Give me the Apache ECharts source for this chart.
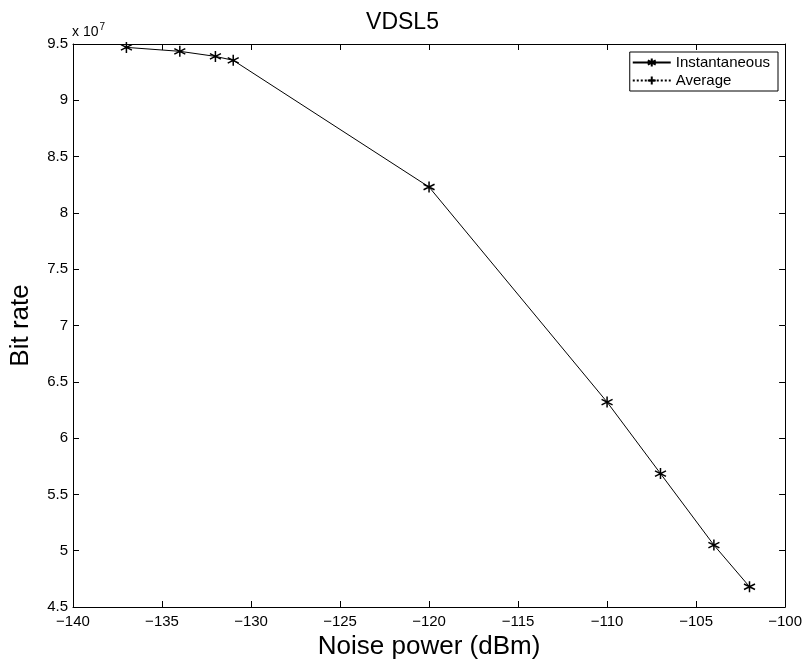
<!DOCTYPE html>
<html><head><meta charset="utf-8">
<script src="https://cdn.jsdelivr.net/npm/echarts@6/dist/echarts.min.js"></script>
<style>html,body{margin:0;padding:0;background:#fff}#c{width:805px;height:665px}</style>
</head><body><div id="c"></div>
<script>
const noisePower = [-137, -134, -132, -131, -120, -110, -107, -104, -102];
const bitRateInst = [9.47e7, 9.435e7, 9.39e7, 9.355e7, 8.23e7, 6.32e7, 5.685e7, 5.05e7, 4.68e7];
const bitRateAvg = [];
const xTicks = [-140, -135, -130, -125, -120, -115, -110, -105, -100];
const yTicks = [4.5, 5, 5.5, 6, 6.5, 7, 7.5, 8, 8.5, 9, 9.5];

const font = 'Liberation Sans, Arial, Helvetica, sans-serif';
const star = 'path://M0,-5L0,5M-4.3,-2.5L4.3,2.5M-4.3,2.5L4.3,-2.5';
const plus = 'path://M0,-5L0,5M-5,0L5,0';
const chart = echarts.init(document.getElementById('c'));
const axisLine = {show: true, onZero: false, lineStyle: {color: '#000', width: 1}};
const tick = {show: true, inside: true, length: 6, lineStyle: {color: '#000'}};
chart.setOption({
  animation: false,
  backgroundColor: '#fff',
  title: {text: 'VDSL5', left: 'center', top: 6, textStyle: {fontFamily: font, fontWeight: 'normal', fontSize: 23, color: '#000'}},
  grid: {left: 72, right: 18, top: 44, bottom: 58},
  legend: {
    orient: 'vertical', right: 27, top: 52, borderColor: '#000', borderWidth: 1,
    backgroundColor: '#fff', itemWidth: 38, itemHeight: 10, itemGap: 3, padding: [3, 8, 3, 2],
    textStyle: {fontFamily: font, fontSize: 15, color: '#000'},
    data: ['Instantaneous', 'Average']
  },
  graphic: [{
    type: 'text', left: 72, top: 22,
    style: {text: '{a|x 10}{b|7}', rich: {a: {fontFamily: font, fontSize: 14, fill: '#000'}, b: {fontFamily: font, fontSize: 10, fill: '#000', verticalAlign: 'top', padding: [0, 0, 10, 1]}}}
  }],
  xAxis: [{
    type: 'value', min: xTicks[0], max: xTicks[xTicks.length - 1], interval: 5,
    name: 'Noise power (dBm)', nameLocation: 'middle', nameGap: 27,
    nameTextStyle: {fontFamily: font, fontSize: 26, color: '#000'},
    axisLine, axisTick: tick, splitLine: {show: false},
    axisLabel: {fontFamily: font, fontSize: 15, color: '#000', margin: 7, formatter: v => (v < 0 ? '\u2212' + (-v) : String(v))}
  }, {
    type: 'value', position: 'top', min: xTicks[0], max: xTicks[xTicks.length - 1], interval: 5,
    axisLine, axisTick: tick, axisLabel: {show: false}, splitLine: {show: false}
  }],
  yAxis: [{
    type: 'value', min: yTicks[0] * 1e7, max: yTicks[yTicks.length - 1] * 1e7, interval: 5e6,
    name: 'Bit rate', nameLocation: 'middle', nameGap: 39, nameRotate: 90,
    nameTextStyle: {fontFamily: font, fontSize: 26, color: '#000'},
    axisLine, axisTick: tick, splitLine: {show: false},
    axisLabel: {fontFamily: font, fontSize: 15, color: '#000', margin: 5, formatter: v => String(Math.round(v / 1e6) / 10)}
  }, {
    type: 'value', position: 'right', min: yTicks[0] * 1e7, max: yTicks[yTicks.length - 1] * 1e7, interval: 5e6,
    axisLine, axisTick: tick, axisLabel: {show: false}, splitLine: {show: false}
  }],
  series: [{
    name: 'Instantaneous', type: 'line', data: noisePower.map((x, i) => [x, bitRateInst[i]]),
    symbol: star, symbolSize: 11, showAllSymbol: true,
    lineStyle: {color: '#000', width: 1},
    itemStyle: {color: 'none', borderColor: '#000', borderWidth: 1.5}
  }, {
    name: 'Average', type: 'line', data: bitRateAvg,
    symbol: plus, symbolSize: 10,
    lineStyle: {color: '#000', width: 1, type: 'dotted'},
    itemStyle: {color: 'none', borderColor: '#000', borderWidth: 1}
  }]
});
</script></body></html>
